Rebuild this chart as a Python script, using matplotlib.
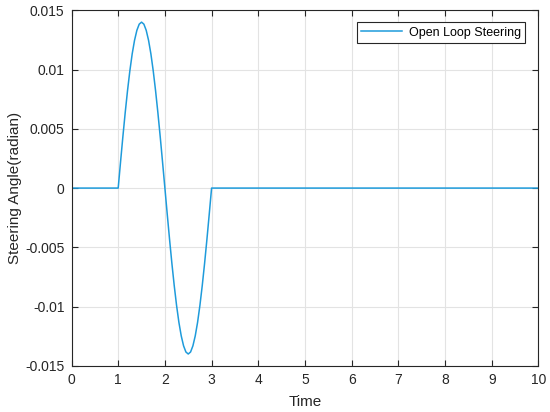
import matplotlib
matplotlib.use("Agg")
import matplotlib.pyplot as plt

OUT_FIG = "out.png"

# values
time = [0.0, 1.00, 1.05, 1.10, 1.15, 1.20, 1.25, 1.30, 1.35, 1.40, 1.45,
        1.50, 1.55, 1.60, 1.65, 1.70, 1.75, 1.80, 1.85, 1.90, 1.95,
        2.00, 2.05, 2.10, 2.15, 2.20, 2.25, 2.30, 2.35, 2.40, 2.45,
        2.50, 2.55, 2.60, 2.65, 2.70, 2.75, 2.80, 2.85, 2.90, 2.95,
        3.00, 10.0]
angle = [0.0, 0.0, 0.00219, 0.00433, 0.00636, 0.00823, 0.00990, 0.01133, 0.01247, 0.01331, 0.01383,
         0.01400, 0.01383, 0.01331, 0.01247, 0.01133, 0.00990, 0.00823, 0.00636, 0.00433, 0.00219,
         0.0, -0.00219, -0.00433, -0.00636, -0.00823, -0.00990, -0.01133, -0.01247, -0.01331, -0.01383,
         -0.01400, -0.01383, -0.01331, -0.01247, -0.01133, -0.00990, -0.00823, -0.00636, -0.00433, -0.00219,
         0.0, 0.0]

x_ticks = [0, 1, 2, 3, 4, 5, 6, 7, 8, 9, 10]
y_ticks = [-0.015, -0.01, -0.005, 0, 0.005, 0.01, 0.015]
y_labels = ["-0.015", "-0.01", "-0.005", "0", "0.005", "0.01", "0.015"]

plt.rcParams["font.family"] = ["Liberation Sans", "DejaVu Sans"]

fig = plt.figure(figsize=(5.5, 4.12), dpi=100)
ax = fig.add_axes([0.130, 0.112, 0.849, 0.863])

ax.plot(time, angle, color="#1E9BDB", lw=1.1, label="Open Loop Steering")

ax.set_xlim(0, 10)
ax.set_ylim(-0.015, 0.015)
ax.set_xticks(x_ticks)
ax.set_yticks(y_ticks)
ax.set_yticklabels(y_labels)
ax.grid(True, color="#e3e3e3", lw=0.8)
ax.set_axisbelow(True)

ax.tick_params(direction="in", top=True, right=True, length=4, width=0.8,
               colors="#262626", labelsize=10, pad=5)
for s in ax.spines.values():
    s.set_color("#262626")
    s.set_linewidth(0.8)

ax.set_xlabel("Time", fontsize=11, color="#262626", labelpad=6)
ax.set_ylabel("Steering Angle(radian)", fontsize=11, color="#262626", labelpad=2)

leg = ax.legend(loc="upper right", fontsize=9, fancybox=False, framealpha=1,
                edgecolor="#262626", handlelength=3.3, handletextpad=0.5,
                borderpad=0.35, bbox_to_anchor=(0.985, 0.984))
leg.get_frame().set_linewidth(0.8)

plt.savefig(OUT_FIG, dpi=100)
